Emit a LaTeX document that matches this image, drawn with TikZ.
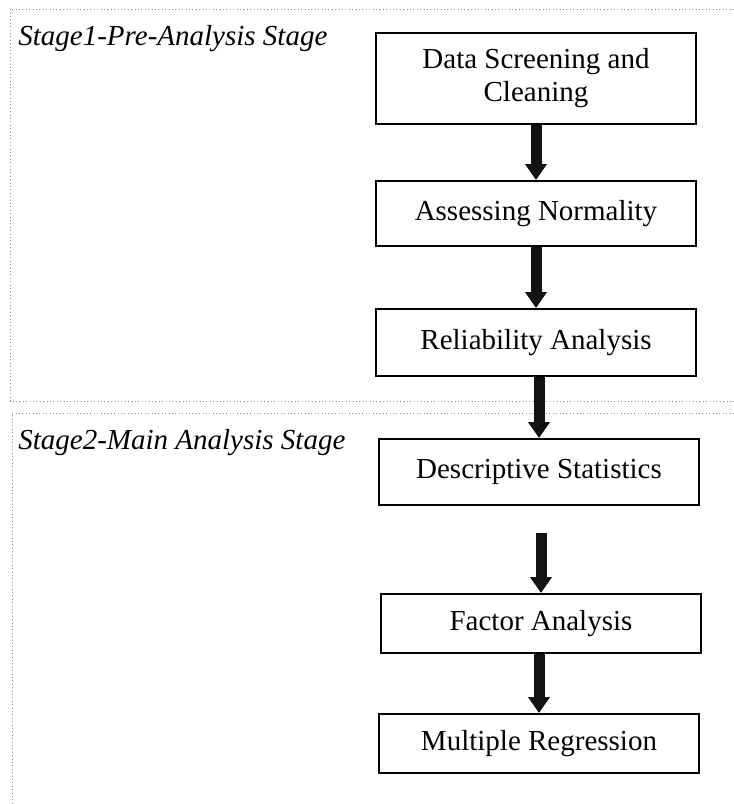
\documentclass[tikz,border=0pt]{standalone}
\usepackage{fontspec}
\setmainfont{Liberation Serif}
\usetikzlibrary{arrows.meta}
\tikzset{
  caja/.style={draw, line width=1pt, minimum width=160pt, inner sep=0pt, align=center,
    font=\fontsize{14.5}{16.5}\selectfont},
  flecha/.style={line width=5.5pt, draw=black!93, -{Triangle[width=10.5pt,length=8pt]}},
  marco/.style={draw=black!45, line width=0.5pt, dash pattern=on 0.5pt off 1.2pt},
  etapa/.style={anchor=base west, inner sep=0pt, font=\fontsize{14.5}{16.5}\selectfont\itshape}
}
\begin{document}
\begin{tikzpicture}[x=0.5pt, y=-0.5pt]
\useasboundingbox (0,0) rectangle (734,804);
% Marcos de las etapas
\draw[marco] (734,9) -| (10,401) -- (734,401);
\draw[marco] (734,413) -| (12,804);
\node[etapa] (e1) at (18,45) {Stage1-Pre-Analysis Stage};
\node[etapa] (e2) at (18,449) {Stage2-Main Analysis Stage};

% Cajas
\node[caja, minimum height=45.5pt] (b1) at (536,78.5) {Data Screening and\\Cleaning};
\node[caja, minimum height=32.5pt] (b2) at (536,213.5) {Assessing Normality};
\node[caja, minimum height=33.5pt] (b3) at (536,342.5) {Reliability Analysis};
\node[caja, minimum height=33pt] (b4) at (539,472) {Descriptive Statistics};
\node[caja, minimum height=29.5pt] (b5) at (541,623.5) {Factor Analysis};
\node[caja, minimum height=29.5pt] (b6) at (539,743.5) {Multiple Regression};

% Flechas
\coordinate (c4) at (541,533);
\draw[flecha] (b1) -- (b2);
\draw[flecha] (b2) -- (b3);
\draw[flecha] (b3.south -| b4) -- (b4);
\draw[flecha] (c4) -- (b5);
\draw[flecha] (b5.south -| b6) -- (b6);
\end{tikzpicture}
\end{document}
